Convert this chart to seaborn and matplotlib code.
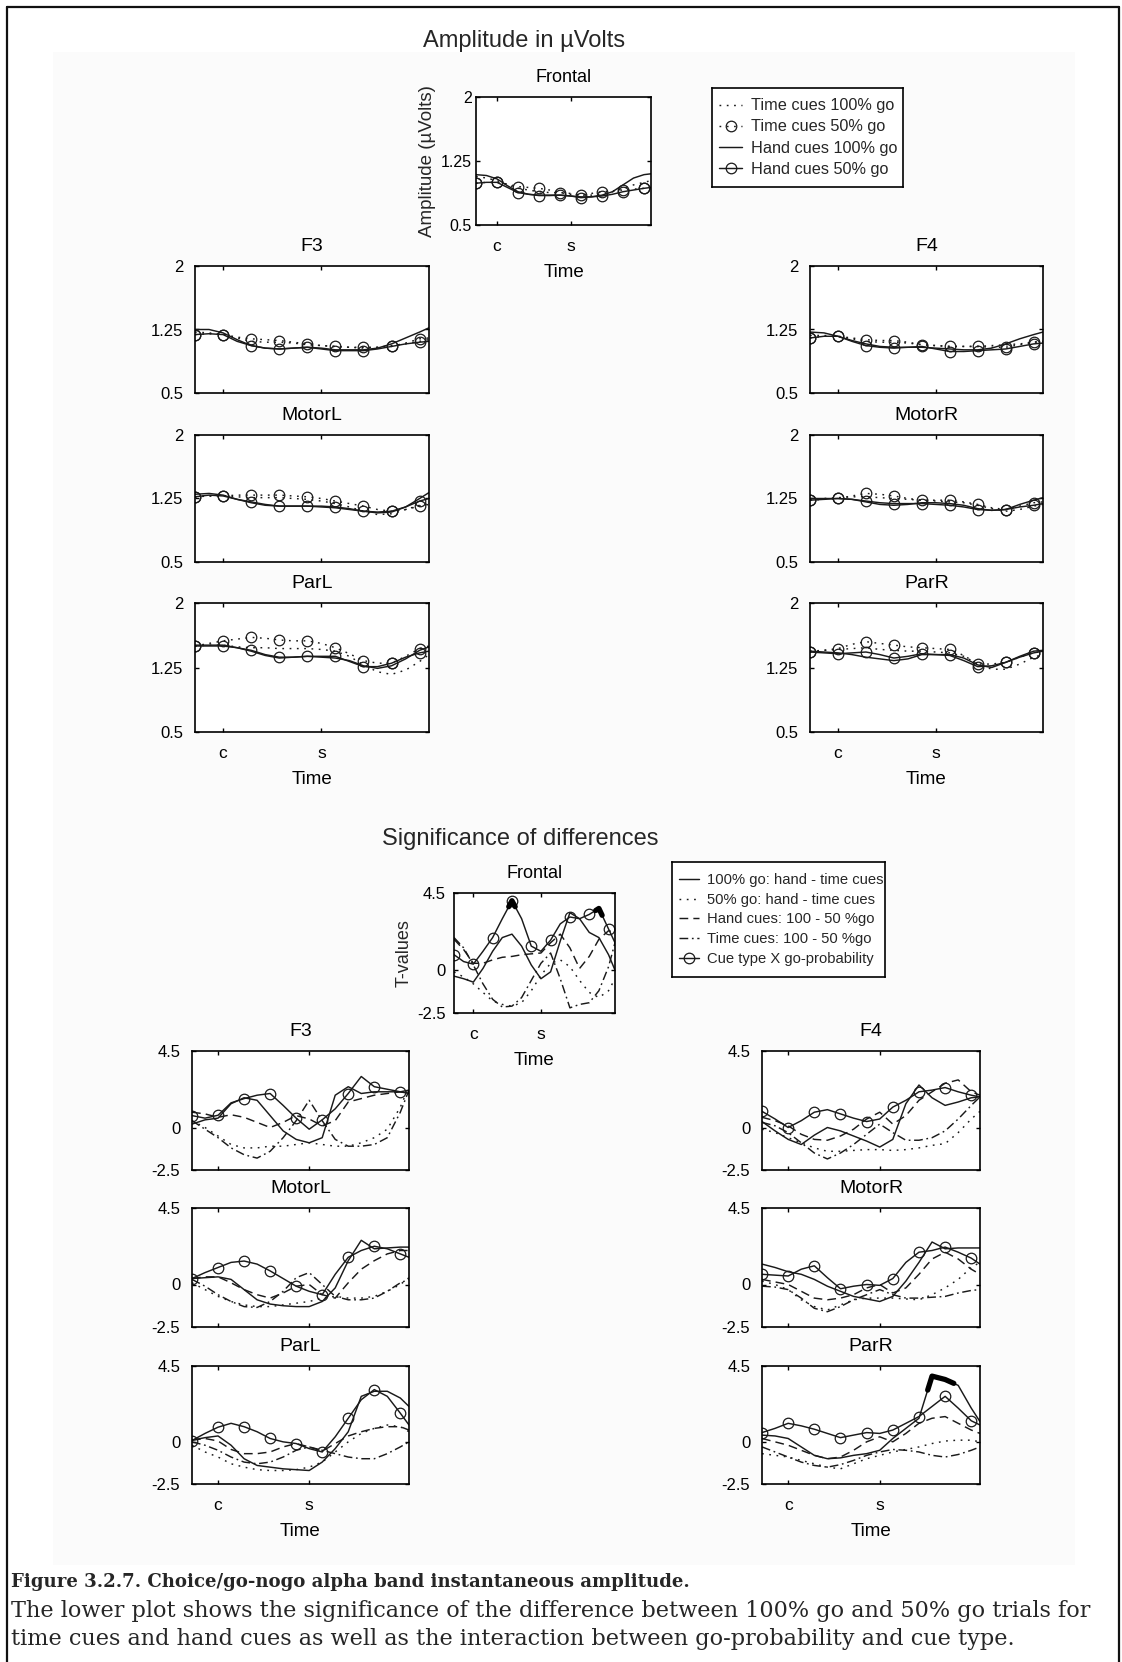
import matplotlib
matplotlib.use("Agg")
import matplotlib.pyplot as plt
from matplotlib.lines import Line2D
from matplotlib.patches import Rectangle
import seaborn as sns

# ---------------- data ----------------
TIME = [0, 6, 12, 18, 24, 30, 36, 42, 48, 54, 60, 66, 72, 78, 84, 90, 96, 100]
CUE_TICKS = [12, 54]
CUE_LABELS = ['c', 's']

# amplitude in uVolts: time cues 100% / 50%, hand cues 100% / 50%
AMP_FRONTAL_TIME100 = [1.07, 1.05, 1.02, 0.97, 0.93, 0.91, 0.89, 0.88, 0.88, 0.87, 0.85, 0.85, 0.86, 0.89, 0.93, 0.97, 1.00, 1.02]
AMP_FRONTAL_TIME50 = [0.99, 1.00, 1.00, 0.98, 0.95, 0.94, 0.93, 0.91, 0.88, 0.86, 0.85, 0.87, 0.89, 0.90, 0.91, 0.92, 0.93, 0.94]
AMP_FRONTAL_HAND100 = [1.09, 1.08, 1.04, 0.96, 0.89, 0.86, 0.85, 0.85, 0.85, 0.84, 0.83, 0.83, 0.85, 0.89, 0.97, 1.05, 1.09, 1.10]
AMP_FRONTAL_HAND50 = [0.99, 1.00, 1.00, 0.94, 0.88, 0.86, 0.845, 0.845, 0.85, 0.84, 0.82, 0.83, 0.84, 0.86, 0.89, 0.91, 0.93, 0.94]

AMP_F3_TIME100 = [1.22, 1.21, 1.19, 1.15, 1.11, 1.10, 1.10, 1.09, 1.07, 1.06, 1.05, 1.04, 1.03, 1.04, 1.06, 1.08, 1.11, 1.13]
AMP_F3_TIME50 = [1.19, 1.20, 1.19, 1.16, 1.14, 1.13, 1.12, 1.10, 1.08, 1.06, 1.05, 1.04, 1.04, 1.04, 1.05, 1.09, 1.14, 1.15]
AMP_F3_HAND100 = [1.25, 1.25, 1.21, 1.13, 1.06, 1.03, 1.02, 1.03, 1.04, 1.03, 1.01, 1.01, 1.01, 1.03, 1.08, 1.15, 1.22, 1.27]
AMP_F3_HAND50 = [1.19, 1.20, 1.19, 1.11, 1.06, 1.03, 1.02, 1.03, 1.04, 1.02, 1.00, 1.00, 1.00, 1.02, 1.05, 1.08, 1.10, 1.11]

AMP_MOTORL_TIME100 = [1.27, 1.28, 1.28, 1.27, 1.26, 1.26, 1.26, 1.25, 1.24, 1.22, 1.19, 1.15, 1.10, 1.06, 1.07, 1.12, 1.17, 1.19]
AMP_MOTORL_TIME50 = [1.27, 1.28, 1.28, 1.29, 1.29, 1.29, 1.29, 1.28, 1.27, 1.25, 1.22, 1.19, 1.16, 1.12, 1.10, 1.12, 1.16, 1.18]
AMP_MOTORL_HAND100 = [1.30, 1.31, 1.29, 1.24, 1.20, 1.17, 1.16, 1.16, 1.16, 1.15, 1.14, 1.12, 1.10, 1.08, 1.09, 1.15, 1.25, 1.32]
AMP_MOTORL_HAND50 = [1.27, 1.29, 1.28, 1.24, 1.21, 1.18, 1.16, 1.16, 1.16, 1.16, 1.15, 1.13, 1.10, 1.09, 1.10, 1.15, 1.22, 1.25]

AMP_PARL_TIME100 = [1.50, 1.51, 1.51, 1.49, 1.48, 1.48, 1.47, 1.47, 1.47, 1.46, 1.44, 1.38, 1.28, 1.20, 1.17, 1.22, 1.32, 1.40]
AMP_PARL_TIME50 = [1.50, 1.53, 1.56, 1.58, 1.60, 1.59, 1.57, 1.56, 1.56, 1.53, 1.48, 1.41, 1.33, 1.30, 1.30, 1.38, 1.47, 1.50]
AMP_PARL_HAND100 = [1.51, 1.51, 1.51, 1.48, 1.44, 1.39, 1.36, 1.37, 1.38, 1.37, 1.36, 1.33, 1.27, 1.24, 1.27, 1.35, 1.45, 1.49]
AMP_PARL_HAND50 = [1.50, 1.50, 1.50, 1.48, 1.45, 1.40, 1.37, 1.37, 1.38, 1.38, 1.38, 1.32, 1.26, 1.26, 1.30, 1.37, 1.42, 1.44]

AMP_F4_TIME100 = [1.18, 1.18, 1.17, 1.14, 1.11, 1.10, 1.10, 1.09, 1.07, 1.06, 1.05, 1.05, 1.05, 1.06, 1.07, 1.08, 1.10, 1.11]
AMP_F4_TIME50 = [1.15, 1.17, 1.17, 1.15, 1.13, 1.12, 1.12, 1.10, 1.07, 1.06, 1.05, 1.05, 1.05, 1.04, 1.04, 1.07, 1.10, 1.11]
AMP_F4_HAND100 = [1.22, 1.21, 1.17, 1.12, 1.08, 1.05, 1.04, 1.04, 1.04, 1.03, 1.02, 1.01, 1.01, 1.03, 1.08, 1.14, 1.19, 1.22]
AMP_F4_HAND50 = [1.15, 1.17, 1.17, 1.11, 1.06, 1.04, 1.03, 1.04, 1.05, 1.02, 0.99, 0.99, 1.00, 1.01, 1.02, 1.05, 1.08, 1.09]

AMP_MOTORR_TIME100 = [1.24, 1.25, 1.26, 1.27, 1.27, 1.26, 1.25, 1.24, 1.23, 1.22, 1.21, 1.20, 1.17, 1.13, 1.10, 1.12, 1.16, 1.18]
AMP_MOTORR_TIME50 = [1.23, 1.24, 1.25, 1.28, 1.31, 1.30, 1.28, 1.25, 1.23, 1.23, 1.23, 1.21, 1.18, 1.14, 1.12, 1.16, 1.20, 1.21]
AMP_MOTORR_HAND100 = [1.25, 1.25, 1.25, 1.24, 1.21, 1.18, 1.17, 1.18, 1.20, 1.20, 1.19, 1.17, 1.13, 1.11, 1.12, 1.18, 1.23, 1.26]
AMP_MOTORR_HAND50 = [1.23, 1.24, 1.25, 1.24, 1.22, 1.20, 1.19, 1.19, 1.19, 1.18, 1.17, 1.15, 1.12, 1.11, 1.12, 1.15, 1.17, 1.19]

AMP_PARR_TIME100 = [1.44, 1.45, 1.46, 1.47, 1.48, 1.46, 1.45, 1.44, 1.44, 1.43, 1.42, 1.38, 1.29, 1.23, 1.23, 1.29, 1.37, 1.40]
AMP_PARR_TIME50 = [1.43, 1.45, 1.47, 1.52, 1.55, 1.53, 1.51, 1.49, 1.48, 1.47, 1.46, 1.39, 1.29, 1.29, 1.31, 1.37, 1.42, 1.44]
AMP_PARR_HAND100 = [1.44, 1.43, 1.42, 1.40, 1.37, 1.35, 1.33, 1.35, 1.40, 1.40, 1.40, 1.36, 1.28, 1.25, 1.31, 1.38, 1.44, 1.45]
AMP_PARR_HAND50 = [1.43, 1.42, 1.41, 1.42, 1.43, 1.40, 1.36, 1.38, 1.41, 1.40, 1.39, 1.33, 1.26, 1.27, 1.31, 1.37, 1.42, 1.44]

# T-values: 100% go hand-time, 50% go hand-time, hand 100-50, time 100-50, interaction
T_FRONTAL_GO100 = [-0.35, -0.5, -0.7, 0.1, 1.1, 1.9, 2.1, 1.4, 0.3, -0.5, -0.1, 1.7, 3.35, 3.0, 2.2, 1.9, 0.9, 0.0]
T_FRONTAL_GO50 = [-0.1, -0.4, -0.8, -1.3, -1.8, -2.0, -2.1, -1.9, -1.2, -0.3, 0.4, 0.6, 0.2, -0.6, -1.3, -1.6, -1.2, -0.5]
T_FRONTAL_HAND = [1.8, 1.2, 0.4, 0.4, 0.6, 0.75, 0.8, 0.9, 0.95, 1.0, 1.6, 2.1, 1.3, 0.1, 0.8, 1.8, 2.3, 2.2]
T_FRONTAL_TIME = [1.9, 1.3, 0.3, -0.8, -1.7, -2.15, -2.1, -1.6, -0.6, 0.4, 1.0, -0.5, -2.2, -2.0, -1.9, -1.2, 0.2, 1.6]
T_FRONTAL_INTER = [0.9, 0.5, 0.35, 1.1, 1.9, 3.0, 4.05, 3.0, 1.4, 1.1, 1.75, 2.7, 3.1, 3.0, 3.25, 3.6, 2.4, 1.6]

T_F3_GO100 = [0.2, 0.45, 0.55, 1.4, 1.75, 1.6, 0.7, -0.2, -0.7, -0.9, -0.6, 1.9, 2.4, 2.0, 2.1, 2.1, 2.1, 2.2]
T_F3_GO50 = [0.4, 0.0, -0.5, -1.0, -1.2, -1.2, -1.1, -1.1, -1.0, -0.9, -1.0, -1.1, -1.1, -0.9, -0.6, -0.1, 1.2, 2.4]
T_F3_HAND = [0.9, 0.8, 0.6, 0.75, 0.6, 0.3, 0.0, 0.3, 0.7, 0.5, 0.1, 0.4, 1.5, 1.7, 1.9, 2.0, 2.1, 2.0]
T_F3_TIME = [0.4, -0.1, -0.6, -1.2, -1.6, -1.8, -1.4, -0.6, 0.4, 1.6, 0.4, -0.7, -1.1, -1.1, -1.0, -0.6, 0.9, 2.2]
T_F3_INTER = [0.7, 0.55, 0.72, 1.45, 1.7, 1.9, 2.0, 1.3, 0.55, -0.1, 0.45, 1.1, 2.0, 3.0, 2.4, 2.25, 2.1, 2.0]

T_MOTORL_GO100 = [0.35, 0.4, 0.45, 0.3, -0.3, -0.9, -1.15, -1.25, -1.3, -1.3, -1.0, -0.2, 1.4, 2.6, 2.1, 2.15, 2.2, 2.2]
T_MOTORL_GO50 = [0.1, -0.3, -0.7, -1.0, -1.2, -1.3, -1.3, -1.2, -1.1, -1.0, -0.8, -0.7, -0.8, -0.8, -0.7, -0.4, 0.0, 0.4]
T_MOTORL_HAND = [0.35, 0.45, 0.45, 0.1, -0.3, -0.6, -0.8, -0.5, -0.1, 0.0, -0.6, -0.8, 0.1, 0.9, 1.4, 1.8, 2.0, 2.0]
T_MOTORL_TIME = [0.3, -0.1, -0.6, -1.0, -1.3, -1.35, -1.0, -0.4, 0.4, 0.7, 0.0, -0.7, -0.9, -0.9, -0.8, -0.4, 0.1, 0.3]
T_MOTORL_INTER = [0.35, 0.7, 1.0, 1.3, 1.38, 1.2, 0.8, 0.35, -0.1, -0.4, -0.6, 0.6, 1.6, 2.0, 2.25, 2.1, 1.8, 1.6]

T_PARL_GO100 = [0.1, 0.25, 0.35, -0.2, -1.0, -1.4, -1.5, -1.6, -1.65, -1.7, -1.2, -0.4, 0.6, 2.7, 3.0, 3.0, 2.6, 2.1]
T_PARL_GO50 = [-0.2, -0.6, -0.9, -1.3, -1.5, -1.65, -1.7, -1.7, -1.65, -1.5, -1.2, -0.6, 0.0, 0.5, 0.8, 1.0, 0.9, 0.6]
T_PARL_HAND = [0.1, 0.2, 0.05, -0.45, -0.7, -0.7, -0.6, -0.3, -0.1, -0.3, -0.55, -0.1, 0.35, 0.6, 0.8, 0.9, 0.9, 0.7]
T_PARL_TIME = [0.0, -0.2, -0.5, -0.9, -1.2, -1.3, -1.2, -0.9, -0.5, -0.3, -0.5, -0.7, -0.9, -1.0, -1.0, -0.7, -0.3, 0.0]
T_PARL_INTER = [0.08, 0.5, 0.87, 1.1, 0.9, 0.6, 0.2, 0.0, -0.1, -0.4, -0.6, 0.3, 1.4, 2.5, 3.1, 2.7, 1.7, 1.0]

T_F4_GO100 = [0.35, -0.2, -0.7, -1.0, -0.45, 0.0, -0.2, -0.5, -0.8, -1.15, -0.7, 1.4, 2.5, 1.75, 1.3, 1.5, 1.75, 1.8]
T_F4_GO50 = [-0.1, -0.3, -0.6, -0.9, -1.2, -1.4, -1.4, -1.35, -1.3, -1.3, -1.35, -1.3, -1.2, -1.05, -0.95, -0.3, 0.5, 0.95]
T_F4_HAND = [0.6, 0.4, 0.1, -0.4, -0.7, -0.75, -0.5, -0.1, 0.5, 0.9, 0.2, 0.7, 1.6, 2.1, 2.6, 2.8, 2.1, 1.9]
T_F4_TIME = [0.3, 0.1, -0.3, -0.9, -1.5, -1.85, -1.5, -1.0, -0.4, 0.2, -0.3, -0.75, -0.75, -0.6, -0.2, 0.5, 1.3, 1.8]
T_F4_INTER = [0.95, 0.5, 0.0, 0.4, 0.9, 1.05, 0.8, 0.55, 0.35, 0.5, 1.2, 1.6, 2.1, 2.2, 2.35, 2.1, 1.9, 1.8]

T_MOTORR_GO100 = [1.2, 1.0, 0.75, 0.6, 0.3, -0.1, -0.4, -0.7, -0.85, -1.0, -0.7, 0.2, 1.3, 2.5, 2.1, 2.15, 2.15, 2.15]
T_MOTORR_GO50 = [0.2, 0.0, -0.3, -0.9, -1.3, -1.5, -1.2, -0.9, -0.8, -0.8, -0.8, -0.85, -0.9, -0.6, -0.2, 0.3, 1.0, 1.3]
T_MOTORR_HAND = [0.3, 0.15, 0.0, -0.4, -0.8, -0.9, -0.8, -0.6, -0.2, 0.0, -0.5, -0.2, 0.6, 1.5, 1.9, 1.5, 0.9, 0.6]
T_MOTORR_TIME = [-0.1, -0.15, -0.3, -0.8, -1.4, -1.6, -1.3, -0.9, -0.6, -0.3, -0.6, -0.8, -0.8, -0.75, -0.7, -0.5, -0.35, -0.3]
T_MOTORR_INTER = [0.6, 0.55, 0.5, 0.9, 1.1, 0.4, -0.25, -0.1, 0.0, -0.05, 0.35, 1.3, 1.9, 2.0, 2.2, 1.9, 1.55, 1.2]

T_PARR_GO100 = [0.4, 0.35, 0.2, -0.3, -0.8, -1.0, -0.95, -0.8, -0.7, -0.5, 0.2, 0.8, 1.4, 3.9, 3.7, 3.35, 2.0, 1.2]
T_PARR_GO50 = [-0.7, -0.8, -0.9, -1.1, -1.3, -1.5, -1.6, -1.3, -1.0, -0.8, -0.6, -0.45, -0.3, -0.1, 0.05, 0.1, 0.1, 0.0]
T_PARR_HAND = [0.2, 0.0, -0.2, -0.5, -0.8, -1.0, -0.9, -0.5, 0.0, 0.3, 0.0, 0.5, 1.1, 1.4, 1.5, 1.1, 0.7, 0.5]
T_PARR_TIME = [-0.3, -0.6, -0.9, -1.2, -1.4, -1.5, -1.35, -1.1, -0.8, -0.6, -0.45, -0.5, -0.6, -0.8, -0.9, -0.75, -0.5, -0.3]
T_PARR_INTER = [0.55, 0.8, 1.1, 0.95, 0.75, 0.5, 0.25, 0.4, 0.55, 0.5, 0.7, 1.1, 1.5, 2.1, 2.7, 2.0, 1.25, 1.0]

# significant stretches (thick black)
SIG_FRONTAL_A_T = [34, 36, 38]
SIG_FRONTAL_A_V = [3.7, 4.05, 3.7]
SIG_FRONTAL_B_T = [88, 90, 92]
SIG_FRONTAL_B_V = [3.48, 3.6, 3.2]
SIG_PARR_T = [76, 78, 84, 88]
SIG_PARR_V = [3.07, 3.9, 3.7, 3.47]

AMP_LABELS = ['Time cues 100% go', 'Time cues 50% go', 'Hand cues 100% go', 'Hand cues 50% go']
T_LABELS = ['100% go: hand - time cues', '50% go: hand - time cues', 'Hand cues: 100 - 50 %go',
            'Time cues: 100 - 50 %go', 'Cue type X go-probability']

# ---------------- look ----------------
sns.set_theme(style="ticks")
plt.rcParams['font.family'] = ['Liberation Sans', 'DejaVu Sans']

W, H = 1122, 1662
INK = '#1a1a1a'
DOT = (0, (1.2, 3.8))
DASH = (0, (6, 3.5))
DASHDOT = (0, (6, 2.5, 1.2, 2.5))
MS = 7.6

fig = plt.figure(figsize=(W / 100, H / 100), dpi=100, facecolor='white')


def rect(x0, y0, x1, y1):
    return [x0 / W, 1 - y1 / H, (x1 - x0) / W, (y1 - y0) / H]


def panel(box, title, series, styles, ylim, yticks, yticklabels, bottom,
          title_size=14, ypad=8.5, ylabsize=12):
    ax = fig.add_axes(rect(*box))
    for vals, (ls, mk) in zip(series, styles):
        kw = dict(marker='o', markevery=2, markersize=MS, markerfacecolor='none',
                  markeredgecolor=INK, markeredgewidth=0.9) if mk else {}
        sns.lineplot(x=TIME, y=vals, ax=ax, color=INK, linestyle=ls, linewidth=1.05,
                     errorbar=None, sort=False, legend=False, **kw)
    ax.set_xlim(0, 100)
    ax.set_ylim(*ylim)
    ax.set_xticks(CUE_TICKS)
    ax.set_xticklabels(CUE_LABELS if bottom else [])
    ax.set_yticks(yticks)
    ax.set_yticklabels(yticklabels)
    ax.tick_params(axis='both', direction='in', top=True, right=True, length=3, width=1,
                   color='black', labelcolor='black')
    ax.tick_params(axis='y', pad=ypad, labelsize=ylabsize)
    ax.tick_params(axis='x', pad=10, labelsize=12.5)
    for s in ax.spines.values():
        s.set_linewidth(1.2)
        s.set_color('black')
    ax.set_xlabel('Time' if bottom else '', fontsize=13.5, labelpad=7, color='black')
    ax.set_ylabel('')
    ax.set_title(title, fontsize=title_size, pad=11, color='black')
    ax.set_facecolor('white')
    return ax


# faint scanned-page background and page frame
fig.patches.append(Rectangle((53 / W, 1 - 1565 / H), (1075 - 53) / W, (1565 - 52) / H,
                             transform=fig.transFigure, facecolor='#fbfbfb', edgecolor='none', zorder=-5))
for xs, ys in [([7, 7], [7, H]), ([7, 1119], [7, 7]), ([1119, 1119], [7, H])]:
    fig.lines.append(Line2D([x / W for x in xs], [1 - y / H for y in ys], transform=fig.transFigure,
                            color='#111111', linewidth=1.6))

# ---------------- amplitude ----------------
AMP_STYLES = [(DOT, False), (DOT, True), ('-', False), ('-', True)]
amp_kw = dict(styles=AMP_STYLES, ylim=(0.5, 2), yticks=[0.5, 1.25, 2], yticklabels=['0.5', '1.25', '2'])
panel((476, 97, 651, 225), 'Frontal',
      [AMP_FRONTAL_TIME100, AMP_FRONTAL_TIME50, AMP_FRONTAL_HAND100, AMP_FRONTAL_HAND50],
      bottom=True, title_size=13, ypad=3, ylabsize=11.5, **amp_kw)
rows_amp = [(266, 393), (435, 562), (603, 732)]
left_amp = [('F3', [AMP_F3_TIME100, AMP_F3_TIME50, AMP_F3_HAND100, AMP_F3_HAND50]),
            ('MotorL', [AMP_MOTORL_TIME100, AMP_MOTORL_TIME50, AMP_MOTORL_HAND100, AMP_MOTORL_HAND50]),
            ('ParL', [AMP_PARL_TIME100, AMP_PARL_TIME50, AMP_PARL_HAND100, AMP_PARL_HAND50])]
right_amp = [('F4', [AMP_F4_TIME100, AMP_F4_TIME50, AMP_F4_HAND100, AMP_F4_HAND50]),
             ('MotorR', [AMP_MOTORR_TIME100, AMP_MOTORR_TIME50, AMP_MOTORR_HAND100, AMP_MOTORR_HAND50]),
             ('ParR', [AMP_PARR_TIME100, AMP_PARR_TIME50, AMP_PARR_HAND100, AMP_PARR_HAND50])]
for i, (y0, y1) in enumerate(rows_amp):
    panel((195, y0, 429, y1), left_amp[i][0], left_amp[i][1], bottom=(i == 2), **amp_kw)
    panel((810, y0, 1043, y1), right_amp[i][0], right_amp[i][1], bottom=(i == 2), **amp_kw)

fig.text(524 / W, 1 - 47 / H, 'Amplitude in µVolts', ha='center', va='baseline', fontsize=17)
fig.text(427 / W, 1 - 161 / H, 'Amplitude (µVolts)', rotation=90, ha='center', va='center', fontsize=13.5)

# ---------------- significance ----------------
T_STYLES = [('-', False), (DOT, False), (DASH, False), (DASHDOT, False), ('-', True)]
t_kw = dict(styles=T_STYLES, ylim=(-2.5, 4.5), yticks=[-2.5, 0, 4.5], yticklabels=['-2.5', '0', '4.5'])
ax_fr = panel((454, 893, 615, 1013), 'Frontal',
              [T_FRONTAL_GO100, T_FRONTAL_GO50, T_FRONTAL_HAND, T_FRONTAL_TIME, T_FRONTAL_INTER],
              bottom=True, title_size=13, ypad=6, **t_kw)
rows_t = [(1051, 1170), (1208, 1327), (1366, 1484)]
left_t = [('F3', [T_F3_GO100, T_F3_GO50, T_F3_HAND, T_F3_TIME, T_F3_INTER]),
          ('MotorL', [T_MOTORL_GO100, T_MOTORL_GO50, T_MOTORL_HAND, T_MOTORL_TIME, T_MOTORL_INTER]),
          ('ParL', [T_PARL_GO100, T_PARL_GO50, T_PARL_HAND, T_PARL_TIME, T_PARL_INTER])]
right_t = [('F4', [T_F4_GO100, T_F4_GO50, T_F4_HAND, T_F4_TIME, T_F4_INTER]),
           ('MotorR', [T_MOTORR_GO100, T_MOTORR_GO50, T_MOTORR_HAND, T_MOTORR_TIME, T_MOTORR_INTER]),
           ('ParR', [T_PARR_GO100, T_PARR_GO50, T_PARR_HAND, T_PARR_TIME, T_PARR_INTER])]
for i, (y0, y1) in enumerate(rows_t):
    panel((192, y0, 409, y1), left_t[i][0], left_t[i][1], bottom=(i == 2), **t_kw)
    ax_r = panel((762, y0, 980, y1), right_t[i][0], right_t[i][1], bottom=(i == 2), **t_kw)
ax_parr = ax_r

for ax, ts, vs in [(ax_fr, SIG_FRONTAL_A_T, SIG_FRONTAL_A_V), (ax_fr, SIG_FRONTAL_B_T, SIG_FRONTAL_B_V),
                   (ax_parr, SIG_PARR_T, SIG_PARR_V)]:
    sns.lineplot(x=ts, y=vs, ax=ax, color='black', linewidth=3.8, errorbar=None, sort=False,
                 legend=False, solid_capstyle='round')

fig.text(520 / W, 1 - 845 / H, 'Significance of differences', ha='center', va='baseline', fontsize=17)
fig.text(404 / W, 1 - 953 / H, 'T-values', rotation=90, ha='center', va='center', fontsize=13)


# ---------------- legends (framed boxes) ----------------
def legend_box(box, labels, styles, fs, spacing):
    lax = fig.add_axes(rect(*box))
    lax.set_xticks([])
    lax.set_yticks([])
    for s in lax.spines.values():
        s.set_linewidth(1.2)
        s.set_color('black')
    handles = []
    for ls, mk in styles:
        handles.append(Line2D([], [], color=INK, linestyle=ls, linewidth=1.05,
                              marker='o' if mk else None, markersize=MS, markerfacecolor='none',
                              markeredgecolor=INK, markeredgewidth=0.9))
    lax.legend(handles, labels, loc='center left', frameon=False, borderaxespad=0, borderpad=0.45,
               handlelength=1.4, handletextpad=0.55, labelspacing=spacing,
               prop={'family': 'Liberation Sans', 'size': fs})
    return lax


legend_box((712, 88, 903, 187), AMP_LABELS, AMP_STYLES, 11.7, 0.38)
legend_box((672, 862, 885, 977), T_LABELS,
           [('-', False), (DOT, False), (DASH, False), (DASHDOT, False), ('-', True)], 10.6, 0.38)

# ---------------- caption ----------------
fig.text(11 / W, 1 - 1587 / H, 'Figure 3.2.7. Choice/go-nogo alpha band instantaneous amplitude.',
         ha='left', va='baseline', fontsize=13.1, fontweight='bold', family='DejaVu Serif')
fig.text(11 / W, 1 - 1617 / H,
         'The lower plot shows the significance of the difference between 100% go and 50% go trials for',
         ha='left', va='baseline', fontsize=16.1, family='DejaVu Serif')
fig.text(11 / W, 1 - 1645 / H,
         'time cues and hand cues as well as the interaction between go-probability and cue type.',
         ha='left', va='baseline', fontsize=16.1, family='DejaVu Serif')

fig.savefig('out.png', dpi=100, facecolor='white')
